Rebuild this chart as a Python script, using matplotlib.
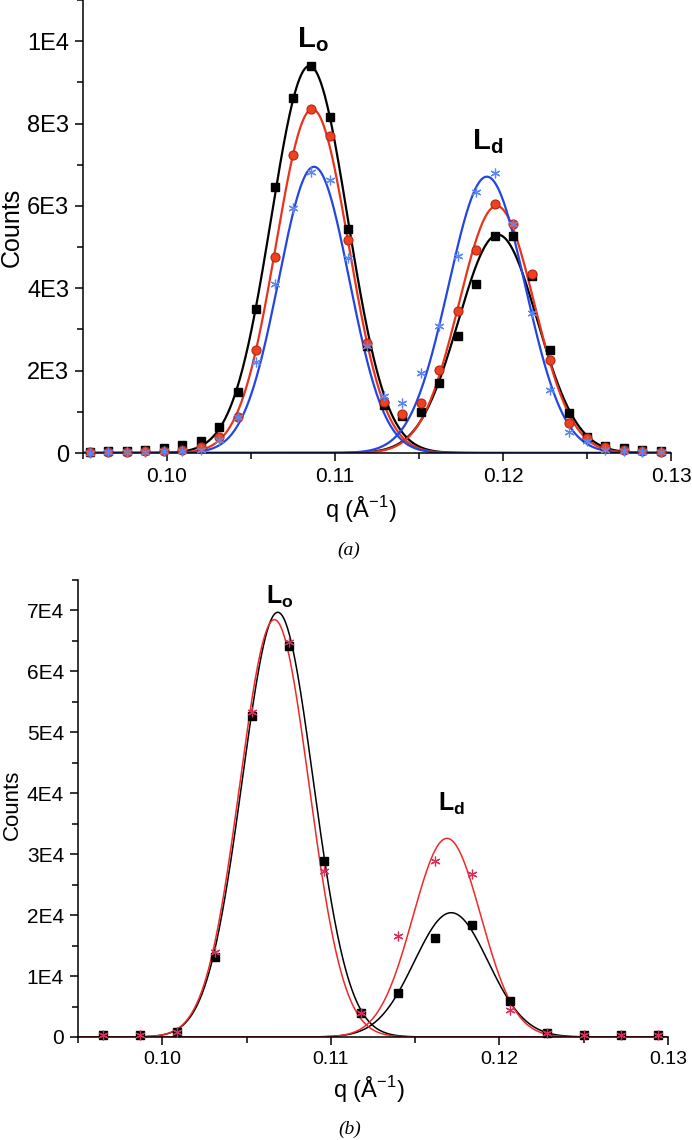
import numpy as np
import matplotlib
matplotlib.use("Agg")
import matplotlib.pyplot as plt
from matplotlib.ticker import FixedLocator, MultipleLocator

plt.rcParams['font.family'] = ['Liberation Sans', 'DejaVu Sans']
plt.rcParams['mathtext.fontset'] = 'custom'
plt.rcParams['mathtext.rm'] = 'Liberation Sans'
plt.rcParams['mathtext.bf'] = 'Liberation Sans:bold'

# ---- panel (a) data ----
q_a = [0.0954, 0.0965, 0.0976, 0.0987, 0.0998, 0.1009, 0.1020, 0.1031, 0.1042, 0.1053,
       0.1064, 0.1075, 0.1086, 0.1097, 0.1108, 0.1119, 0.1129, 0.1140, 0.1151, 0.1162,
       0.1173, 0.1184, 0.1195, 0.1206, 0.1217, 0.1228, 0.1239, 0.1250, 0.1261, 0.1272,
       0.1283, 0.1294]
black_a = [30, 50, 60, 80, 130, 190, 290, 620, 1470, 3500, 6460, 8610, 9400, 8170, 5430,
           2590, 1170, 900, 1000, 1710, 2830, 4110, 5260, 5260, 4290, 2490, 980, 400, 170,
           110, 80, 60]
red_a = [20, 30, 30, 40, 50, 80, 150, 380, 880, 2490, 4750, 7230, 8350, 7700, 5180, 2680,
         1250, 940, 1220, 2020, 3440, 4920, 6040, 5560, 4350, 2250, 740, 370, 150, 80, 40, 30]
blue_a = [10, 20, 20, 30, 40, 40, 70, 320, 880, 2220, 4110, 5950, 6820, 6640, 4740, 2590,
          1390, 1220, 1940, 3090, 4790, 6330, 6800, 5560, 3410, 1530, 520, 290, 80, 40, 30, 20]
# gaussian fits (centre, sigma, height) for Lo and Ld
fit_black_a = [(0.10848, 0.00228, 9400), (0.11970, 0.00235, 5300)]
fit_red_a = [(0.10865, 0.00216, 8350), (0.11962, 0.00224, 6000)]
fit_blue_a = [(0.10875, 0.00210, 6950), (0.11904, 0.00228, 6710)]
yticks_a = [0, 2000, 4000, 6000, 8000, 10000]
ylabels_a = ['0', '2E3', '4E3', '6E3', '8E3', '1E4']

# ---- panel (b) data ----
q_b = [0.0965, 0.0987, 0.1009, 0.1031, 0.1053, 0.1075, 0.1096, 0.1118, 0.1140, 0.1162,
       0.1184, 0.1206, 0.1228, 0.1250, 0.1272, 0.1294]
black_b = [270, 270, 800, 13140, 52700, 64100, 28900, 3960, 7300, 16200, 18400, 5840,
           600, 300, 300, 300]
red_b = [300, 300, 900, 14000, 53300, 64800, 27300, 4000, 16500, 28900, 26800, 4430,
         600, 300, 300, 300]
fit_black_b = [(0.10685, 0.00210, 69700), (0.11714, 0.00219, 20400)]
fit_red_b = [(0.10665, 0.00205, 68500), (0.11689, 0.00202, 32600)]
yticks_b = [0, 10000, 20000, 30000, 40000, 50000, 60000, 70000]
ylabels_b = ['0', '1E4', '2E4', '3E4', '4E4', '5E4', '6E4', '7E4']

xticks = [0.10, 0.11, 0.12, 0.13]
xlabels = ['0.10', '0.11', '0.12', '0.13']

qq = np.linspace(0.095, 0.13, 1000)


def gauss(c, s, a):
    return a * np.exp(-0.5 * ((qq - c) / s) ** 2)


def style_axis(ax, ylim, yticks, ylabels, yminor, xsize, ysize):
    ax.set_xlim(0.095, 0.13)
    ax.set_ylim(*ylim)
    for s in ['top', 'right']:
        ax.spines[s].set_visible(False)
    for s in ['left', 'bottom']:
        ax.spines[s].set_linewidth(1.1)
    ax.xaxis.set_major_locator(FixedLocator(xticks))
    ax.set_xticklabels(xlabels)
    ax.xaxis.set_minor_locator(MultipleLocator(0.005))
    ax.yaxis.set_major_locator(FixedLocator(yticks))
    ax.set_yticklabels(ylabels)
    ax.yaxis.set_minor_locator(MultipleLocator(yminor))
    ax.tick_params(which='major', direction='out', length=6, width=1.1, pad=4)
    ax.tick_params(which='minor', direction='out', length=4, width=1.1)
    ax.tick_params(axis='x', labelsize=xsize)
    ax.tick_params(axis='y', labelsize=ysize)


fig = plt.figure(figsize=(6.92, 11.4), dpi=100)

# ---------------- (a) ----------------
ax1 = fig.add_axes([83 / 692, 1 - 453 / 1140, 588 / 692, 453 / 1140])
style_axis(ax1, (0, 11000), yticks_a, ylabels_a, 1000, 15, 17)
for c, s, a in fit_black_a:
    ax1.plot(qq, gauss(c, s, a), color='black', lw=1.6, zorder=2)
for c, s, a in fit_red_a:
    ax1.plot(qq, gauss(c, s, a), color='#E8341C', lw=1.6, zorder=2)
for c, s, a in fit_blue_a:
    ax1.plot(qq, gauss(c, s, a), color='#2446E0', lw=1.6, zorder=2)
ax1.plot(q_a, black_a, 's', color='black', ms=6, zorder=3, clip_on=False)
ax1.plot(q_a, red_a, 'o', mfc='#F0401E', mec='#B02818', mew=0.8, ms=6.5, zorder=4, clip_on=False)
ax1.plot(q_a, blue_a, ls='none', marker=(6, 2, 0), color='#5C86F2', ms=7, mew=0.9, zorder=5,
         clip_on=False)
ax1.text(0.1087, 10050, r'$\mathbf{L}_\mathbf{o}$', fontsize=21, ha='center', va='center')
ax1.text(0.1191, 7550, r'$\mathbf{L}_\mathbf{d}$', fontsize=21, ha='center', va='center')
fig.text(361 / 692, 1 - 510 / 1140, r'q (Å$^{-1}$)', fontsize=17, ha='center', va='center')
fig.text(12 / 692, 1 - 227 / 1140, 'Counts', fontsize=18, rotation=90, ha='center', va='center')
fig.text(349 / 692, 1 - 550 / 1140, '(a)', fontsize=14, family='Liberation Serif',
         style='italic', ha='center', va='center')

# ---------------- (b) ----------------
ax2 = fig.add_axes([78 / 692, 1 - 1037 / 1140, 590 / 692, 457 / 1140])
style_axis(ax2, (0, 75000), yticks_b, ylabels_b, 5000, 14, 15)
for c, s, a in fit_black_b:
    ax2.plot(qq, gauss(c, s, a), color='black', lw=1.1, zorder=2)
for c, s, a in fit_red_b:
    ax2.plot(qq, gauss(c, s, a), color='#F02828', lw=1.1, zorder=2)
ax2.plot(q_b, black_b, 's', color='black', ms=6, zorder=3, clip_on=False)
ax2.plot(q_b, red_b, ls='none', marker=(6, 2, 0), color='#D8305A', ms=7, mew=0.9, zorder=4,
         clip_on=False)
ax2.text(0.10695, 72200, r'$\mathbf{L}_\mathbf{o}$', fontsize=18, ha='center', va='center')
ax2.text(0.11713, 38300, r'$\mathbf{L}_\mathbf{d}$', fontsize=18, ha='center', va='center')
fig.text(369 / 692, 1 - 1090 / 1140, r'q (Å$^{-1}$)', fontsize=17, ha='center', va='center')
fig.text(12 / 692, 1 - 805 / 1140, 'Counts', fontsize=16, rotation=90, ha='center', va='center')
fig.text(350 / 692, 1 - 1129 / 1140, '(b)', fontsize=14, family='Liberation Serif',
         style='italic', ha='center', va='center')

fig.savefig('out.png', dpi=100)
